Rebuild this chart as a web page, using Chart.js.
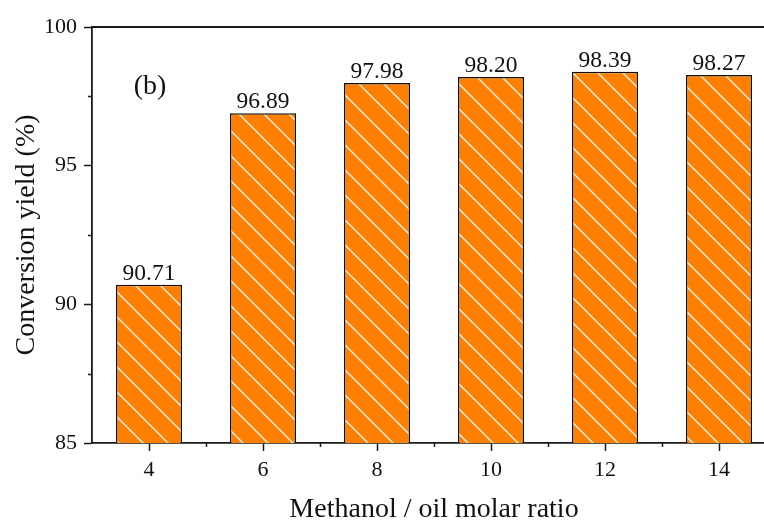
<!DOCTYPE html>
<html>
<head>
<meta charset="utf-8">
<script src="https://cdn.jsdelivr.net/npm/chart.js@4/dist/chart.umd.min.js"></script>
<style>
  html, body { margin: 0; padding: 0; background: #fff; overflow: hidden; }
  #wrap { width: 780px; height: 521px; position: relative; }
</style>
</head>
<body>
<div id="wrap"><canvas id="c" width="780" height="521"></canvas></div>
<script>
// Methanol / oil molar ratio vs. conversion yield
const ratios = ['4', '6', '8', '10', '12', '14'];
const yields = [90.71, 96.89, 97.98, 98.20, 98.39, 98.27];
const yMinorTicks = [87.5, 92.5, 97.5];
const panelLabel = '(b)';

const SERIF = '"Liberation Serif", "Times New Roman", serif';
const AXIS = '#1a1a1a';

// Orange fill with white diagonal hatching
function hatchPattern() {
  const s = 25;
  const c = document.createElement('canvas');
  c.width = s; c.height = s;
  const g = c.getContext('2d');
  g.fillStyle = '#ff8000';
  g.fillRect(0, 0, s, s);
  g.strokeStyle = 'rgba(255,255,255,0.85)';
  g.lineWidth = 1.5;
  g.beginPath();
  g.moveTo(-2, -2); g.lineTo(s + 2, s + 2);
  g.moveTo(-2, s - 2); g.lineTo(2, s + 2);
  g.moveTo(s - 2, -2); g.lineTo(s + 2, 2);
  g.stroke();
  return document.getElementById('c').getContext('2d').createPattern(c, 'repeat');
}

// Top frame line, minor ticks, value labels and panel tag
const decorations = {
  id: 'decorations',
  afterDraw(chart) {
    const { ctx, chartArea: a, scales: { x, y } } = chart;
    ctx.save();
    ctx.strokeStyle = AXIS;
    ctx.lineWidth = 1.8;
    ctx.beginPath();
    ctx.moveTo(a.left - 0.9, a.top);
    ctx.lineTo(a.right, a.top);
    ctx.stroke();

    ctx.lineWidth = 1.5;
    ctx.beginPath();
    yMinorTicks.forEach(v => {
      const py = Math.round(y.getPixelForValue(v)) + 0.5;
      ctx.moveTo(a.left - 4, py);
      ctx.lineTo(a.left, py);
    });
    const step = x.getPixelForTick(1) - x.getPixelForTick(0);
    for (let i = 0; i < ratios.length; i++) {
      const px = Math.round(x.getPixelForTick(i) + step / 2) + 0.5;
      ctx.moveTo(px, a.bottom);
      ctx.lineTo(px, a.bottom + 4);
    }
    ctx.stroke();

    ctx.fillStyle = '#111';
    ctx.font = '23.5px ' + SERIF;
    ctx.textAlign = 'center';
    ctx.textBaseline = 'alphabetic';
    const meta = chart.getDatasetMeta(0);
    meta.data.forEach((bar, i) => {
      ctx.fillText(yields[i].toFixed(2), bar.x, bar.y - 5);
    });

    ctx.font = '28px ' + SERIF;
    ctx.textBaseline = 'middle';
    ctx.fillText(panelLabel, 150, 87);
    ctx.restore();
  }
};

new Chart(document.getElementById('c'), {
  type: 'bar',
  data: {
    labels: ratios,
    datasets: [{
      data: yields,
      backgroundColor: hatchPattern(),
      borderColor: '#111',
      borderWidth: 1.5,
      borderSkipped: false,
      categoryPercentage: 1,
      barPercentage: 0.58
    }]
  },
  options: {
    responsive: false,
    animation: false,
    devicePixelRatio: 1,
    layout: { padding: { top: 27, right: 4, left: 0, bottom: 0 } },
    plugins: { legend: { display: false }, tooltip: { enabled: false } },
    scales: {
      x: {
        offset: true,
        grid: { display: true, drawOnChartArea: false, offset: false, tickLength: 8, tickColor: AXIS, tickWidth: 1.5 },
        border: { display: true, color: AXIS, width: 1.8 },
        ticks: { color: '#111', font: { family: SERIF, size: 22 }, padding: 6, maxRotation: 0 },
        title: { display: true, text: 'Methanol / oil molar ratio', color: '#111',
                 font: { family: SERIF, size: 28, lineHeight: 0.79 }, padding: { top: 0, bottom: 0 } },
        afterFit(s) { s.height = 78; }
      },
      y: {
        min: 85, max: 100,
        grid: { display: true, drawOnChartArea: false, tickLength: 8, tickColor: AXIS, tickWidth: 1.5 },
        border: { display: true, color: AXIS, width: 1.8 },
        ticks: { stepSize: 5, color: '#111', font: { family: SERIF, size: 22 }, padding: 7 },
        title: { display: true, text: 'Conversion yield (%)', color: '#111',
                 font: { family: SERIF, size: 28, lineHeight: 1.2 }, padding: { top: 10, bottom: 0 } },
        afterFit(s) { s.width = 92; }
      }
    }
  },
  plugins: [decorations]
});
</script>
</body>
</html>
